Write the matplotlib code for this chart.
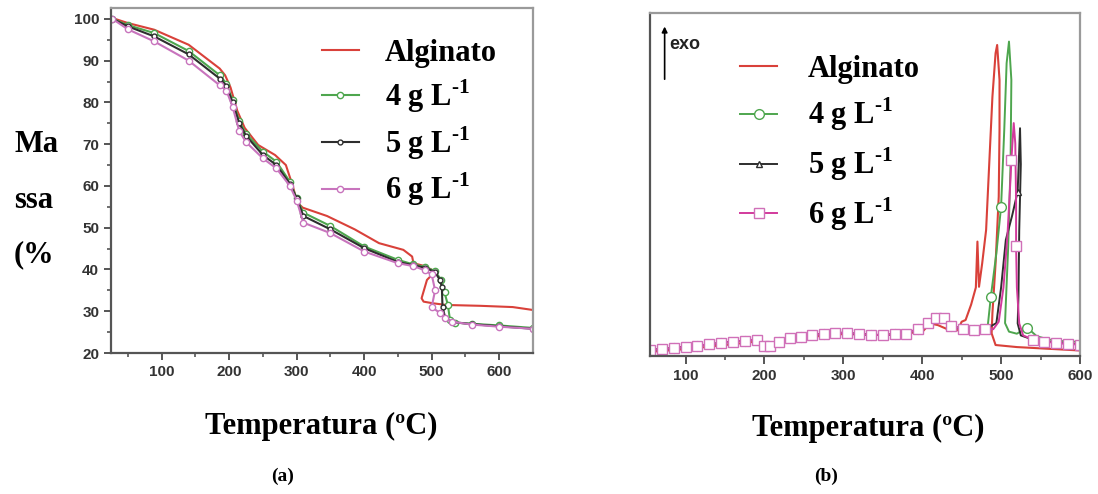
import numpy as np
import matplotlib
matplotlib.use("Agg")
import matplotlib.pyplot as plt

plt.rcParams['mathtext.fontset'] = 'custom'
plt.rcParams['mathtext.rm'] = 'Liberation Serif:bold'
plt.rcParams['mathtext.bf'] = 'Liberation Serif:bold'

labels = ['Alginato', '4 g L$^{\\text{-1}}$', '5 g L$^{\\text{-1}}$', '6 g L$^{\\text{-1}}$']

# ---- (a) TGA: mass (%) vs temperature
T_alg_a = [27, 50, 89, 140, 186, 194, 202, 212, 223, 243, 268, 284, 294, 301, 309, 345, 386, 422, 458, 471,
           473, 490, 505, 493, 485, 488, 502, 522, 572, 620, 650]
m_alg_a = [100.2, 99.0, 97.4, 93.8, 88.1, 86.5, 83.6, 78.0, 73.9, 69.8, 67.4, 65.0, 60.1, 56.0, 54.8, 52.8, 49.6,
           46.3, 44.7, 43.1, 41.5, 40.8, 39.5, 37.5, 33.1, 32.3, 31.9, 31.5, 31.3, 31.0, 30.3]

T_4_a = [27, 50, 89, 140, 186, 196, 205, 215, 225, 250, 270, 290, 300, 310, 350, 400, 450, 473, 490, 505,
         514, 519, 524, 527, 535, 560, 600, 650]
m_4_a = [100.0, 98.5, 96.6, 92.3, 86.5, 84.5, 80.5, 75.5, 72.5, 68.2, 65.8, 61.0, 57.0, 53.6, 50.4, 45.5, 42.3,
         41.2, 40.6, 39.6, 37.5, 34.5, 31.5, 28.0, 27.3, 27.0, 26.6, 26.0]

T_5_a = [27, 50, 89, 140, 186, 196, 205, 215, 225, 250, 270, 290, 300, 310, 350, 400, 450, 473, 490, 505,
         512, 515, 516, 520, 530, 560, 600, 650]
m_5_a = [100.0, 98.2, 95.8, 91.5, 85.7, 84.0, 80.0, 75.0, 72.0, 67.4, 65.0, 60.5, 57.0, 52.8, 49.6, 45.1, 41.8,
         41.0, 40.4, 39.4, 37.5, 35.9, 31.0, 28.5, 27.4, 26.9, 26.4, 25.8]

T_6_a = [27, 50, 89, 140, 186, 196, 205, 215, 225, 250, 270, 290, 300, 310, 350, 400, 450, 473, 490, 500,
         505, 500, 512, 520, 530, 560, 600, 650]
m_6_a = [100.0, 97.5, 94.6, 90.0, 84.1, 82.8, 79.0, 73.1, 70.5, 66.6, 64.2, 60.0, 56.5, 51.2, 48.7, 44.3, 41.5,
         40.8, 39.8, 38.8, 35.0, 31.0, 29.6, 28.4, 27.5, 26.8, 26.3, 25.8]

# ---- (b) DSC: heat flow (a.u.) vs temperature
T_base = [55, 70, 85, 100, 115, 130, 145, 160, 175, 190, 200, 207, 218, 232, 246, 260, 275, 290, 305, 320,
          335, 350, 365, 380, 395, 407, 417, 427, 437, 452, 466, 480]
y_base = [1.8, 2.0, 2.3, 2.7, 3.0, 3.4, 3.8, 4.2, 4.5, 4.8, 3.0, 2.8, 4.2, 5.2, 5.6, 6.1, 6.5, 6.8, 6.7, 6.4,
          6.2, 6.1, 6.3, 6.5, 8.0, 9.5, 11.2, 11.0, 8.8, 7.8, 7.6, 7.8]

T_alg_b = [55, 100, 150, 190, 200, 210, 250, 300, 350, 400, 410, 420, 435, 445, 450, 455, 462, 468, 470, 472,
           476, 481, 485, 489, 493, 495, 498, 498, 497, 493, 489, 488, 493, 520, 560, 600]
y_alg_b = [1.2, 2.0, 3.2, 4.2, 2.3, 3.6, 5.4, 6.4, 6.1, 7.0, 9.5, 9.0, 7.5, 7.5, 10.0, 10.5, 15.0, 20.0, 33.4,
           20.2, 27.0, 36.8, 56.3, 75.7, 88.4, 90.8, 80.6, 66.0, 46.5, 27.0, 12.5, 6.6, 3.2, 2.6, 2.1, 1.6]

T_4_pk = [483, 487, 494, 500, 504, 507, 510, 513, 512, 509, 506, 505, 510, 520, 533, 545, 560, 575, 590, 600]
y_4_pk = [8.6, 17.3, 30.0, 43.6, 66.0, 85.5, 91.8, 80.6, 56.3, 31.9, 15.4, 9.6, 7.1, 6.5, 8.3, 5.8, 4.8, 4.4, 4.2, 4.1]

T_5_pk = [494, 500, 506, 514, 521, 524, 525, 523, 522, 521, 525, 540, 555, 570, 585, 600]
y_5_pk = [9.6, 20.0, 33.9, 41.0, 48.0, 66.5, 56.0, 36.8, 17.3, 9.5, 6.0, 4.8, 4.3, 3.9, 3.6, 3.4]

T_6_pk = [490, 497, 503, 508, 512, 513, 516, 518, 519, 519, 520, 523, 528, 540, 555, 570, 585, 600]
y_6_pk = [7.8, 10.0, 20.0, 35.0, 52.0, 57.2, 68.0, 62.0, 45.0, 32.0, 20.0, 9.5, 6.0, 4.8, 4.2, 3.8, 3.5, 3.3]

c_red = '#d9413a'
c_green = '#4ea64e'
c_black = '#2e2e2e'
c_pink_a = '#c874bd'
c_mag = '#d23a9c'

fig = plt.figure(figsize=(10.98, 4.94), dpi=100)

def style_axes(ax):
    for s in ['top', 'right']:
        ax.spines[s].set_color('#9a9a9a')
        ax.spines[s].set_linewidth(1.6)
    for s in ['left', 'bottom']:
        ax.spines[s].set_color('#555555')
        ax.spines[s].set_linewidth(1.6)
    ax.tick_params(which='both', direction='out', color='#555555', labelcolor='#333333')
    ax.tick_params(which='major', length=5, width=1.4, labelsize=11)
    ax.tick_params(which='minor', length=3, width=1.2)
    for lab in ax.get_xticklabels() + ax.get_yticklabels():
        lab.set_fontweight('bold')
        lab.set_family('Liberation Sans')

# (a)
ax1 = fig.add_axes([0.1011, 0.2854, 0.3843, 0.6984])
ax1.plot(T_alg_a, m_alg_a, color=c_red, lw=1.5, label=labels[0])
ax1.plot(T_4_a, m_4_a, color=c_green, lw=1.5, marker='o', ms=4.5, mfc='white', mew=1.0, label=labels[1])
ax1.plot(T_5_a, m_5_a, color=c_black, lw=1.5, marker='o', ms=3.5, mfc='white', mew=1.0, label=labels[2])
ax1.plot(T_6_a, m_6_a, color=c_pink_a, lw=1.5, marker='o', ms=4.5, mfc='white', mew=1.0, label=labels[3])
ax1.set_xlim(25, 650)
ax1.set_ylim(20, 102.6)
ax1.set_xticks([100, 200, 300, 400, 500, 600])
ax1.set_xticks(np.arange(50, 650, 100), minor=True)
ax1.set_yticks(np.arange(20, 101, 10))
ax1.set_yticks(np.arange(25, 100, 10), minor=True)
style_axes(ax1)
ax1.legend(loc='upper left', bbox_to_anchor=(0.50, 0.91), frameon=False, borderpad=0, borderaxespad=0,
           handlelength=1.2, handletextpad=0.85, labelspacing=0.3,
           prop={'family': 'Liberation Serif', 'weight': 'bold', 'size': 22})

# (b)
ax2 = fig.add_axes([0.592, 0.2794, 0.3916, 0.6933])
ax2.plot(T_alg_b, y_alg_b, color=c_red, lw=1.5, label=labels[0])
n = len(T_base)
ax2.plot(T_base + T_4_pk, y_base + y_4_pk, color=c_green, lw=1.4, marker='o', ms=7, mfc='white', mew=1.0,
         markevery=list(range(0, n, 2)) + [n + 1, n + 3, n + 14], label=labels[1])
ax2.plot(T_base + T_5_pk, y_base + y_5_pk, color=c_black, lw=1.4, marker='^', ms=5, mfc='white', mew=1.0,
         markevery=list(range(1, n, 3)) + [n + 4], label=labels[2])
ax2.plot(T_base + T_6_pk, y_base + y_6_pk, color=c_mag, lw=1.4, marker='s', ms=7, mec='#d070b8', mfc='white',
         mew=1.0, markevery=list(range(0, n)) + [n + 5, n + 9, n + 13, n + 14, n + 15, n + 16, n + 17],
         label=labels[3])
ax2.set_xlim(55, 600)
ax2.set_ylim(0, 100)
ax2.set_xticks([100, 200, 300, 400, 500, 600])
ax2.set_xticks(np.arange(150, 600, 100), minor=True)
ax2.set_yticks([])
style_axes(ax2)
ax2.tick_params(which='major', length=6)
ax2.legend(loc='upper left', bbox_to_anchor=(0.21, 0.88), frameon=False, borderpad=0, borderaxespad=0,
           handlelength=1.2, handletextpad=1.0, labelspacing=0.4,
           prop={'family': 'Liberation Serif', 'weight': 'bold', 'size': 22})
ax2.annotate('', xy=(0.034, 0.97), xytext=(0.034, 0.80), xycoords='axes fraction',
             arrowprops=dict(arrowstyle='-|>', color='black', lw=1.2, mutation_scale=8))
ax2.text(0.045, 0.91, 'exo', transform=ax2.transAxes, fontsize=13, fontweight='bold',
         family='Liberation Sans', va='center', ha='left', color='#222222')

# labels
serif = {'family': 'Liberation Serif', 'weight': 'bold', 'size': 22}
fig.text(14 / 1098, 1 - 145 / 494, 'Ma', ha='left', va='center', fontdict=serif)
fig.text(14 / 1098, 1 - 200 / 494, 'ssa', ha='left', va='center', fontdict=serif)
fig.text(14 / 1098, 1 - 255 / 494, '(%', ha='left', va='center', fontdict=serif)
fig.text(321 / 1098, 1 - 426 / 494, 'Temperatura (ºC)', ha='center', va='center', fontdict=serif)
fig.text(868 / 1098, 1 - 428 / 494, 'Temperatura (ºC)', ha='center', va='center', fontdict=serif)
fig.text(283 / 1098, 1 - 476 / 494, '(a)', ha='center', va='center',
         fontdict={'family': 'Liberation Serif', 'weight': 'bold', 'size': 14})
fig.text(826 / 1098, 1 - 476 / 494, '(b)', ha='center', va='center',
         fontdict={'family': 'Liberation Serif', 'weight': 'bold', 'size': 14})

fig.savefig('out.png', dpi=100)
